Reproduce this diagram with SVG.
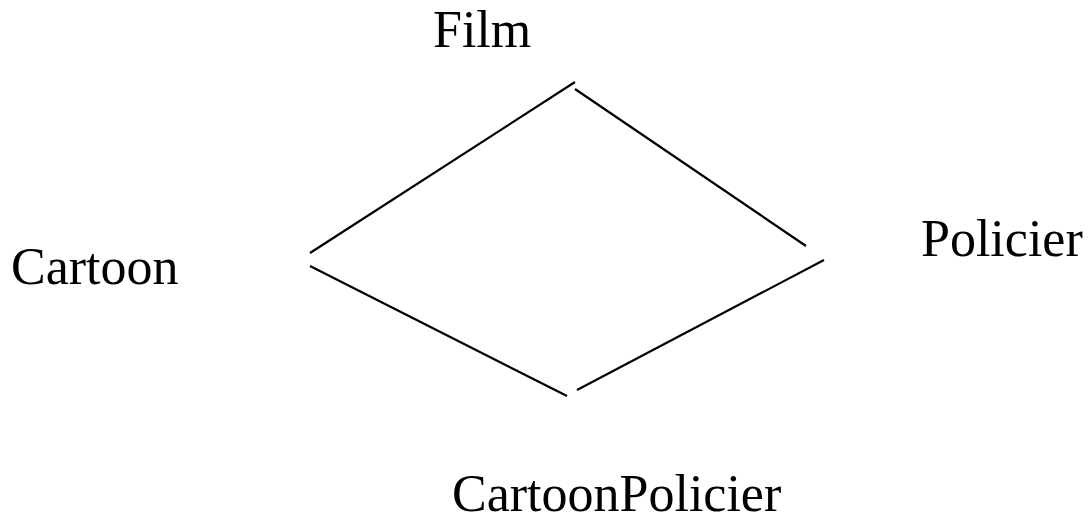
<svg xmlns="http://www.w3.org/2000/svg" width="1090" height="520" viewBox="0 0 1090 520">
<style>
text{font-family:"Liberation Serif","Times New Roman",serif;font-size:52px;fill:#000}
.e{stroke:#000;stroke-width:2.2;fill:none}
</style>
<rect width="1090" height="520" fill="#fff"/>
<g id="connectors">
<line class="e" x1="310" y1="253" x2="575" y2="82"/>
<line class="e" x1="575" y1="89" x2="806" y2="246"/>
<line class="e" x1="310" y1="266" x2="567" y2="396"/>
<line class="e" x1="577" y1="390" x2="824" y2="260"/>
</g>
<g id="film"><text x="433" y="47">Film</text></g>
<g id="cartoon"><text x="11" y="284">Cartoon</text></g>
<g id="policier"><text x="921" y="256">Policier</text></g>
<g id="cartoonpolicier"><text x="452" y="511">CartoonPolicier</text></g>
</svg>
